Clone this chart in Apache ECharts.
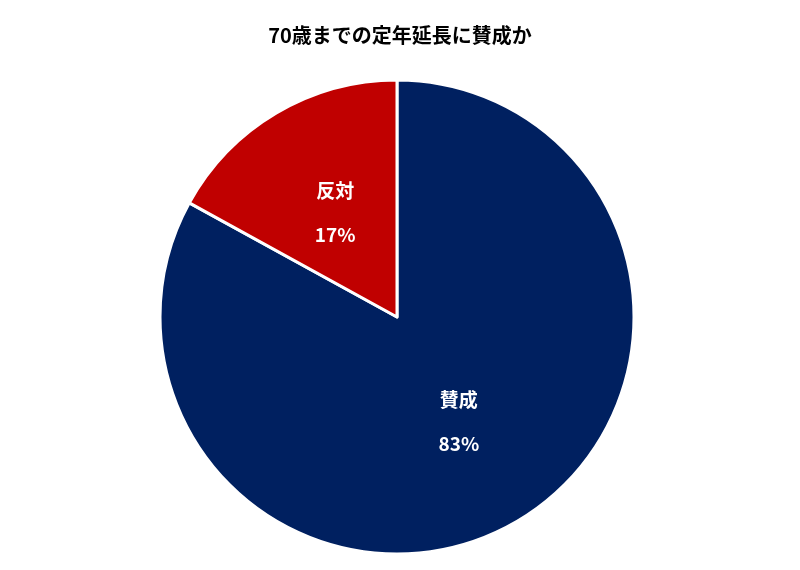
<!DOCTYPE html>
<html><head><meta charset="utf-8">
<script src="https://cdn.jsdelivr.net/npm/echarts@6/dist/echarts.min.js"></script>
<style>html,body{margin:0;padding:0;background:#fff}#c{width:800px;height:570px}</style>
</head><body><div id="c"></div>
<script>
const categories = ['賛成', '反対'];
const values = [83, 17];
const colors = ['#002060', '#C00000'];
const chart = echarts.init(document.getElementById('c'));
chart.setOption({
  animation: false,
  title: { text: '70歳までの定年延長に賛成か', left: 'center', top: 20,
    textStyle: { fontFamily: 'Noto Sans CJK JP', fontSize: 20, fontWeight: 'bold', color: '#000' } },
  series: [{
    type: 'pie', center: [397, 317], radius: [0, 237], startAngle: 90, clockwise: true,
    data: categories.map((c, i) => ({ name: c, value: values[i], itemStyle: { color: colors[i] } })),
    itemStyle: { borderColor: '#fff', borderWidth: 3 },
    label: { show: true, position: 'inside', formatter: '{b}\n{v|{c}%}', color: '#fff',
      fontFamily: 'Noto Sans CJK JP', fontSize: 19, fontWeight: 'bold', lineHeight: 44,
      rich: { v: { fontFamily: 'Noto Sans CJK JP', fontSize: 19, fontWeight: 'bold', color: '#fff', lineHeight: 44 } } },
    labelLine: { show: false }
  }]
});
</script></body></html>
